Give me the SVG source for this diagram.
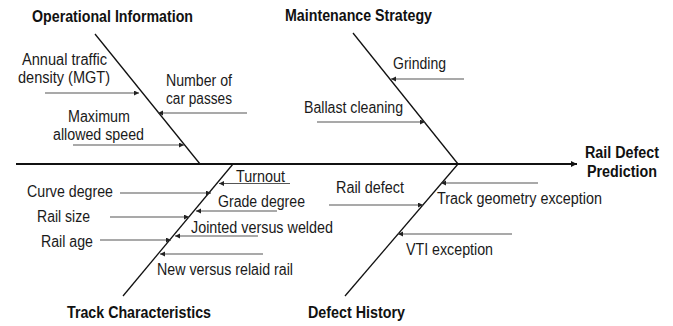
<svg xmlns="http://www.w3.org/2000/svg" width="673" height="326" viewBox="0 0 673 326">
<defs>
<marker id="ah" markerUnits="userSpaceOnUse" markerWidth="6" markerHeight="6" refX="5" refY="2.5" orient="auto"><path d="M0,0 L5,2.5 L0,5 Z" fill="#222"/></marker>
<marker id="ahs" markerUnits="userSpaceOnUse" markerWidth="8" markerHeight="8" refX="6" refY="3" orient="auto"><path d="M0,0 L6,3 L0,6 Z" fill="#111"/></marker>
<style>
.t{font-family:"Liberation Sans",Arial,sans-serif;font-size:16px;fill:#1a1a1a}
.b{font-family:"Liberation Sans",Arial,sans-serif;font-size:16px;font-weight:bold;fill:#111}
.bone{stroke:#111;stroke-width:1.3;fill:none}
.arr{stroke:#555;stroke-width:1.2;fill:none;marker-end:url(#ah)}
</style>
</defs>
<rect width="673" height="326" fill="#fff"/>
<g id="connectors">
<line x1="16" y1="164" x2="577" y2="164" stroke="#111" stroke-width="2" marker-end="url(#ahs)"/>
<line class="bone" x1="95" y1="34" x2="200" y2="164"/>
<line class="bone" x1="353" y1="33" x2="458" y2="164"/>
<line class="bone" x1="233" y1="164" x2="123" y2="296"/>
<line class="bone" x1="458" y1="164" x2="345" y2="296"/>
<line class="arr" x1="45" y1="93" x2="139" y2="93"/>
<line class="arr" x1="247" y1="113" x2="158" y2="113"/>
<line class="arr" x1="73" y1="145" x2="184" y2="145"/>
<line class="arr" x1="464" y1="79" x2="391" y2="79"/>
<line class="arr" x1="317" y1="122" x2="425" y2="122"/>
<line class="arr" x1="290" y1="183.5" x2="219" y2="183.5"/>
<line class="arr" x1="120" y1="193" x2="211" y2="193"/>
<line class="arr" x1="277" y1="211" x2="196" y2="211"/>
<line class="arr" x1="110" y1="217" x2="189" y2="217"/>
<line class="arr" x1="258" y1="236" x2="175" y2="236"/>
<line class="arr" x1="100" y1="240" x2="171" y2="240"/>
<line class="arr" x1="263" y1="254" x2="160" y2="254"/>
<line class="arr" x1="329" y1="205" x2="423" y2="205"/>
<line class="arr" x1="538" y1="183" x2="441" y2="183"/>
<line class="arr" x1="512" y1="234" x2="398" y2="234"/>
</g>
<g id="operational">
<text class="b" x="32" y="22" textLength="161" lengthAdjust="spacingAndGlyphs">Operational Information</text>
<text class="t" x="22" y="65" textLength="85" lengthAdjust="spacingAndGlyphs">Annual traffic</text>
<text class="t" x="18" y="83" textLength="92" lengthAdjust="spacingAndGlyphs">density (MGT)</text>
<text class="t" x="166" y="86" textLength="66" lengthAdjust="spacingAndGlyphs">Number of</text>
<text class="t" x="166" y="104" textLength="66" lengthAdjust="spacingAndGlyphs">car passes</text>
<text class="t" x="68" y="122" textLength="62" lengthAdjust="spacingAndGlyphs">Maximum</text>
<text class="t" x="53" y="140" textLength="91" lengthAdjust="spacingAndGlyphs">allowed speed</text>
</g>
<g id="maintenance">
<text class="b" x="285" y="21" textLength="147" lengthAdjust="spacingAndGlyphs">Maintenance Strategy</text>
<text class="t" x="393" y="69" textLength="53" lengthAdjust="spacingAndGlyphs">Grinding</text>
<text class="t" x="304" y="113" textLength="99" lengthAdjust="spacingAndGlyphs">Ballast cleaning</text>
</g>
<g id="result">
<text class="b" x="585" y="158" textLength="74" lengthAdjust="spacingAndGlyphs">Rail Defect</text>
<text class="b" x="587" y="177" textLength="70" lengthAdjust="spacingAndGlyphs">Prediction</text>
</g>
<g id="track">
<text class="b" x="67" y="318" textLength="144" lengthAdjust="spacingAndGlyphs">Track Characteristics</text>
<text class="t" x="236" y="182" textLength="49" lengthAdjust="spacingAndGlyphs">Turnout</text>
<text class="t" x="27" y="197" textLength="86" lengthAdjust="spacingAndGlyphs">Curve degree</text>
<text class="t" x="218" y="207" textLength="87" lengthAdjust="spacingAndGlyphs">Grade degree</text>
<text class="t" x="37" y="222" textLength="53" lengthAdjust="spacingAndGlyphs">Rail size</text>
<text class="t" x="191" y="233" textLength="142" lengthAdjust="spacingAndGlyphs">Jointed versus welded</text>
<text class="t" x="41" y="247" textLength="52" lengthAdjust="spacingAndGlyphs">Rail age</text>
<text class="t" x="157" y="275" textLength="136" lengthAdjust="spacingAndGlyphs">New versus relaid rail</text>
</g>
<g id="defect">
<text class="b" x="308" y="318" textLength="97" lengthAdjust="spacingAndGlyphs">Defect History</text>
<text class="t" x="336" y="193" textLength="68" lengthAdjust="spacingAndGlyphs">Rail defect</text>
<text class="t" x="437" y="204" textLength="165" lengthAdjust="spacingAndGlyphs">Track geometry exception</text>
<text class="t" x="406" y="255" textLength="87" lengthAdjust="spacingAndGlyphs">VTI exception</text>
</g>
</svg>
